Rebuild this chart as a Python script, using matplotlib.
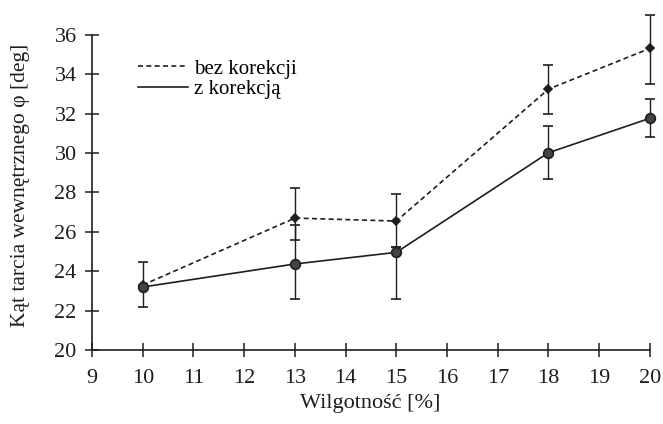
import matplotlib
matplotlib.use("Agg")
import matplotlib.pyplot as plt
import numpy as np
from matplotlib.lines import Line2D

plt.rcParams['font.family'] = ['Liberation Serif', 'DejaVu Serif']

# data
wilg = [10, 13, 15, 18, 20]

bez = [23.3, 26.7, 26.55, 33.25, 35.32]
bez_lo = [22.2, 25.6, 25.23, 31.97, 33.5]
bez_hi = [24.45, 28.25, 27.9, 34.45, 37.03]

z = [23.2, 24.37, 24.96, 30.02, 31.77]
z_lo = [23.2, 22.6, 22.6, 28.71, 30.83]
z_hi = [23.2, 26.37, 25.23, 31.38, 32.77]

xticks = list(range(9, 21))
yticks = list(range(20, 37, 2))

ink = "#1e1e1e"

fig = plt.figure(figsize=(6.63, 4.24), dpi=100)
ax = fig.add_axes([0.1388, 0.1745, 0.8415, 0.743])

bez_err = [np.array(bez) - np.array(bez_lo), np.array(bez_hi) - np.array(bez)]
z_err = [np.array(z) - np.array(z_lo), np.array(z_hi) - np.array(z)]

for x, y, err, ls, mk, ms, mfc in [
        (wilg, bez, bez_err, (0, (3, 2)), "D", 4.5, ink),
        (wilg, z, z_err, "-", "o", 7, "#444444")]:
    cont = ax.errorbar(x, y, yerr=err, color=ink, ls=ls, lw=1.2,
                       marker=mk, ms=ms, mfc=mfc, mec=ink, mew=1.2,
                       ecolor=ink, elinewidth=1.0, capsize=3.4, capthick=1.0)
    for art in cont.get_children():
        art.set_clip_on(False)

ax.set_xlim(9, 20)
ax.set_ylim(20, 36)
ax.set_xticks(xticks)
ax.set_yticks(yticks)

for side in ["top", "right"]:
    ax.spines[side].set_visible(False)
for side in ["left", "bottom"]:
    ax.spines[side].set_color(ink)
    ax.spines[side].set_linewidth(1.2)

ax.tick_params(direction="inout", length=10, width=1.1, colors=ink,
               labelsize=16)
ax.tick_params(axis="y", pad=6)
ax.tick_params(axis="x", pad=9)

ax.set_xlabel("Wilgotność [%]", fontsize=16, color=ink)
ax.set_ylabel("Kąt tarcia wewnętrznego φ [deg]", fontsize=15.5, color=ink)
ax.xaxis.set_label_coords(0.498, -0.14)
ax.yaxis.set_label_coords(-0.112, 0.522)

handles = [Line2D([], [], color=ink, ls=(0, (3, 2)), lw=1.2),
           Line2D([], [], color=ink, ls="-", lw=1.2)]
ax.legend(handles, ["bez korekcji", "z korekcją"], loc="upper left",
          bbox_to_anchor=(0.082, 0.924), frameon=False, fontsize=15,
          handlelength=2.4, handletextpad=0.3, labelspacing=0.05,
          borderpad=0, borderaxespad=0)

fig.savefig("out.png", dpi=100)
